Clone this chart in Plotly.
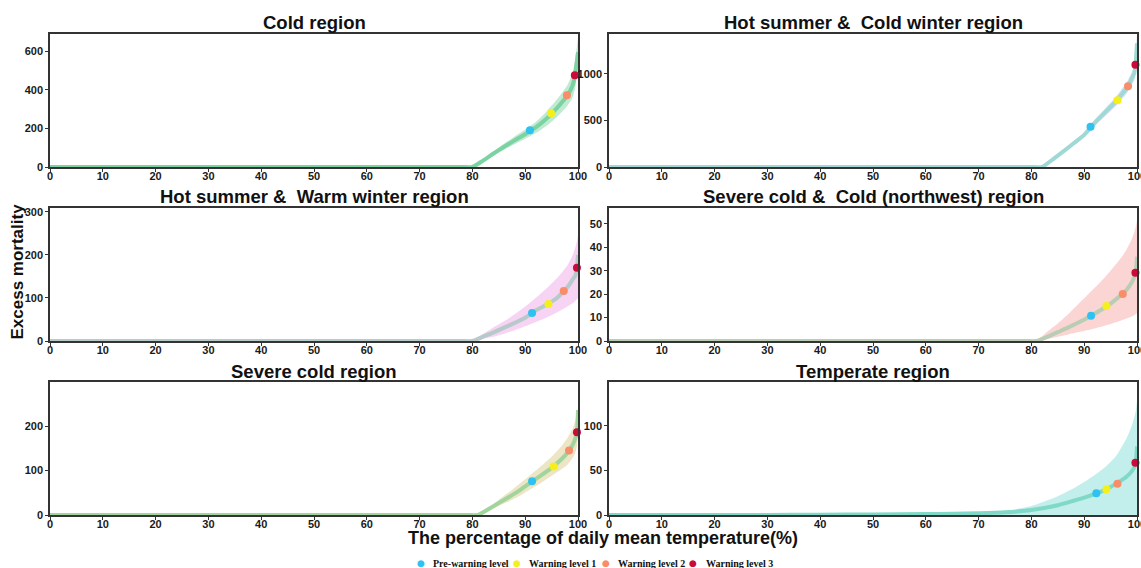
import plotly.graph_objects as go

# ---------------- data ----------------
level_names = ["Pre-warning level", "Warning level 1", "Warning level 2", "Warning level 3"]
level_colors = ["#2ec1f2", "#f5ef1c", "#f88d6a", "#cc0a3a"]

titles = [
    "Cold region",
    "Hot summer &\u00a0 Cold winter region",
    "Hot summer &\u00a0 Warm winter region",
    "Severe cold &\u00a0 Cold (northwest) region",
    "Severe cold region",
    "Temperate region",
]

# Cold region
cold_pct = [0, 20, 40, 60, 70, 76, 78, 80, 82, 84, 86, 88, 90, 92, 94, 96, 97, 98, 99, 99.5, 100]
cold_mid = [0, 0, 0, 0, 0, 0, 0, 0, 33, 70, 105, 138, 170, 205, 250, 305, 337, 372, 425, 490, 595]
cold_low = [0, 0, 0, 0, 0, 0, 0, 0, 28, 60, 90, 118, 146, 176, 213, 260, 288, 318, 362, 415, 520]
cold_high = [0, 0, 0, 0, 0, 0, 0, 0, 38, 80, 120, 158, 194, 234, 287, 350, 386, 426, 488, 565, 675]
cold_pts_x = [90.9, 94.9, 97.9, 99.4]
cold_pts_y = [191, 279, 372, 476]

# Hot summer & Cold winter region
hscw_pct = [0, 20, 40, 60, 70, 78, 80, 82, 84, 86, 88, 90, 92, 94, 96, 97, 98, 99, 99.5, 99.75, 100]
hscw_mid = [0, 0, 0, 0, 0, 0, 0, 0, 80, 165, 255, 345, 475, 590, 705, 775, 845, 950, 1010, 1130, 1330]
hscw_low = [0, 0, 0, 0, 0, 0, 0, 0, 72, 150, 232, 318, 440, 548, 655, 720, 785, 880, 935, 1040, 1220]
hscw_high = [0, 0, 0, 0, 0, 0, 0, 0, 88, 180, 278, 372, 510, 632, 755, 830, 905, 1020, 1085, 1220, 1430]
hscw_pts_x = [91.2, 96.3, 98.3, 99.7]
hscw_pts_y = [433, 717, 867, 1100]

# Hot summer & Warm winter region
hsww_pct = [0, 20, 40, 60, 70, 76, 78, 80, 82, 84, 86, 88, 90, 92, 94, 96, 97, 98, 99, 99.5, 99.8, 100]
hsww_mid = [0, 0, 0, 0, 0, 0, 0, 0, 10, 20, 31, 42, 54, 71, 84, 100, 112, 125, 143, 152, 172, 200]
hsww_low = [0, 0, 0, 0, 0, 0, 0, 0, 5, 10, 17, 25, 34, 44, 54, 66, 73, 80, 88, 93, 97, 100]
hsww_high = [0, 0, 0, 0, 0, 0, 0, 0, 16, 32, 46, 62, 80, 100, 122, 146, 160, 176, 200, 218, 232, 245]
hsww_pts_x = [91.3, 94.4, 97.3, 99.8]
hsww_pts_y = [65, 86, 116, 170]

# Severe cold & Cold (northwest) region
sccn_pct = [0, 20, 40, 60, 70, 77, 79, 81, 83, 85, 87, 89, 91, 93, 95, 97, 98, 99, 99.5, 99.8, 100]
sccn_mid = [0, 0, 0, 0, 0, 0, 0, 0, 1.8, 3.8, 5.8, 8.0, 10.4, 13.0, 16.0, 19.6, 21.8, 25.0, 27.5, 30.0, 36.0]
sccn_low = [0, 0, 0, 0, 0, 0, 0, 0, 0.8, 1.8, 2.8, 3.8, 4.8, 6.0, 7.3, 8.8, 9.6, 10.5, 11.0, 11.5, 12.0]
sccn_high = [0, 0, 0, 0, 0, 0, 0, 0.3, 4.0, 7.5, 11.5, 16.0, 20.5, 25.0, 30.0, 35.5, 39.0, 43.5, 46.5, 49.0, 51.5]
sccn_pts_x = [91.3, 94.2, 97.3, 99.7]
sccn_pts_y = [10.8, 15.0, 20.1, 29.1]

# Severe cold region
sc_pct = [0, 20, 40, 60, 70, 77, 79, 81, 83, 85, 87, 89, 91, 93, 95, 97, 98, 99, 99.5, 99.8, 100]
sc_mid = [0, 0, 0, 0, 0, 0, 0, 0, 13, 27, 41, 56, 73, 89, 106, 127, 140, 158, 172, 186, 236]
sc_low = [0, 0, 0, 0, 0, 0, 0, 0, 10, 21, 31, 43, 58, 72, 88, 104, 113, 128, 140, 155, 175]
sc_high = [0, 0, 0, 0, 0, 0, 0, 0, 16, 34, 52, 71, 90, 110, 131, 157, 173, 195, 213, 228, 243]
sc_pts_x = [91.3, 95.4, 98.3, 99.8]
sc_pts_y = [76, 109, 145, 186]

# Temperate region
temp_pct = [0, 20, 30, 40, 50, 60, 65, 70, 75, 80, 85, 88, 90, 92, 94, 96, 98, 99, 99.5, 99.8, 100]
temp_mid = [0, 0, 0, 0.3, 0.6, 1.0, 1.4, 2.0, 3.0, 5.5, 11, 16, 19.5, 23.5, 28.5, 35, 43, 49, 54, 60, 77]
temp_low = [0, 0, 0, 0, 0, 0, 0, 0, 0, 0, 0, 0, 0, 0, 0, 0, 0, 0, 0, 0, 0]
temp_high = [0, 0, 0.3, 0.8, 1.3, 2, 2.5, 3, 4.5, 10, 21, 30, 37, 45, 54, 66, 86, 100, 110, 118, 128]
temp_pts_x = [92.3, 94.2, 96.3, 99.7]
temp_pts_y = [24.4, 28.9, 35.2, 58.8]

x_ticks = [0, 10, 20, 30, 40, 50, 60, 70, 80, 90, 100]
y_ticks = [
    [0, 200, 400, 600],
    [0, 500, 1000],
    [0, 100, 200, 300],
    [0, 10, 20, 30, 40, 50],
    [0, 100, 200],
    [0, 50, 100],
]
y_max = [690, 1430, 309, 56.8, 299, 149.4]

# ---------------- styling ----------------
line_colors = ["#7bd3a2", "#9fd8d4", "#b7caca", "#b9cdb4", "#a2d49e", "#7fd9c6"]
band_colors = ["#c0ead1", "#d3e2f5", "#f7d3f4", "#fad5d3", "#ece6c6", "#c2eeec"]

panels = [
    (cold_pct, cold_mid, cold_low, cold_high, cold_pts_x, cold_pts_y),
    (hscw_pct, hscw_mid, hscw_low, hscw_high, hscw_pts_x, hscw_pts_y),
    (hsww_pct, hsww_mid, hsww_low, hsww_high, hsww_pts_x, hsww_pts_y),
    (sccn_pct, sccn_mid, sccn_low, sccn_high, sccn_pts_x, sccn_pts_y),
    (sc_pct, sc_mid, sc_low, sc_high, sc_pts_x, sc_pts_y),
    (temp_pct, temp_mid, temp_low, temp_high, temp_pts_x, temp_pts_y),
]

W, H = 1141, 568
ML, MR, MT, MB = 50, 4, 34, 53
PW, PH = W - ML - MR, H - MT - MB

def px_x(px):
    return (px - ML) / PW

def px_y(py):
    return (H - MB - py) / PH

col_dom = [[px_x(50), px_x(578)], [px_x(609), 1.0]]
row_dom = [[px_y(167), 1.0], [px_y(341), px_y(208)], [0.0, px_y(382)]]

fig = go.Figure()
layout_axes = {}
for i, (pct, mid, low, high, ptx, pty) in enumerate(panels):
    r, c = divmod(i, 2)
    n = "" if i == 0 else str(i + 1)
    xa, ya = "x" + n, "y" + n
    spline = dict(width=0, shape="spline", smoothing=0.6)
    fig.add_trace(go.Scatter(x=pct, y=high, mode="lines", line=spline,
                             xaxis=xa, yaxis=ya, showlegend=False, hoverinfo="skip"))
    fig.add_trace(go.Scatter(x=pct, y=low, mode="lines", line=spline,
                             fill="tonexty", fillcolor=band_colors[i],
                             xaxis=xa, yaxis=ya, showlegend=False, hoverinfo="skip"))
    fig.add_trace(go.Scatter(x=pct, y=mid, mode="lines",
                             line=dict(width=4, color=line_colors[i], shape="spline", smoothing=0.6),
                             xaxis=xa, yaxis=ya, showlegend=False))
    for k in range(4):
        fig.add_trace(go.Scatter(x=[ptx[k]], y=[pty[k]], mode="markers", name=level_names[k],
                                 marker=dict(size=8, color=level_colors[k]),
                                 xaxis=xa, yaxis=ya, cliponaxis=False, showlegend=False))
    axis_common = dict(showline=True, linecolor="#333333", linewidth=1.5, mirror=True,
                       showgrid=False, zeroline=False, ticks="outside", ticklen=3,
                       tickcolor="#333333", tickwidth=1, ticklabeloverflow="allow",
                       tickfont=dict(family="Arial", size=11, color="#1a1a1a", weight="bold"))
    layout_axes["xaxis" + n] = dict(domain=col_dom[c], anchor=ya, range=[0, 100],
                                    tickvals=x_ticks, ticklabelstandoff=-5, **axis_common)
    layout_axes["yaxis" + n] = dict(domain=row_dom[r], anchor=xa, range=[0, y_max[i]],
                                    tickvals=y_ticks[i], **axis_common)

fig.update_layout(**layout_axes)

title_y = [px_y(22), px_y(196), px_y(371)]
title_x = [px_x(314), px_x(873)]
ann = []
for i, t in enumerate(titles):
    r, c = divmod(i, 2)
    ann.append(dict(text=t, x=title_x[c], y=title_y[r], xref="paper", yref="paper",
                    xanchor="center", yanchor="middle", showarrow=False,
                    font=dict(family="Arial", size=18.5, color="#111111", weight="bold")))
ann.append(dict(text="Excess mortality", x=px_x(17), y=px_y(271.5), xref="paper", yref="paper",
                xanchor="center", yanchor="middle", textangle=-90, showarrow=False,
                font=dict(family="Arial", size=17, color="#111111", weight="bold")))
ann.append(dict(text="The percentage of daily mean temperature(%)", x=px_x(603), y=px_y(538),
                xref="paper", yref="paper", xanchor="center", yanchor="middle", showarrow=False,
                font=dict(family="Arial", size=18, color="#111111", weight="bold")))

# legend row (dot + label for each warning level)
legend_dot_px = [421, 517, 606, 693]
legend_text_px = [431, 527, 616, 704]
for k in range(4):
    ann.append(dict(text="\u25cf", x=px_x(legend_dot_px[k]), y=px_y(563), xref="paper", yref="paper",
                    xanchor="center", yanchor="middle", showarrow=False,
                    font=dict(family="DejaVu Sans", size=9, color=level_colors[k])))
    ann.append(dict(text=level_names[k], x=px_x(legend_text_px[k]), y=px_y(563.5), xref="paper",
                    yref="paper", xanchor="left", yanchor="middle", showarrow=False,
                    font=dict(family="Liberation Serif", size=10, color="#111111", weight="bold")))

fig.update_layout(
    width=W, height=H,
    margin=dict(l=ML, r=MR, t=MT, b=MB, autoexpand=False),
    paper_bgcolor="white", plot_bgcolor="white",
    annotations=ann,
    showlegend=False,
)

fig.write_html("out.html")
